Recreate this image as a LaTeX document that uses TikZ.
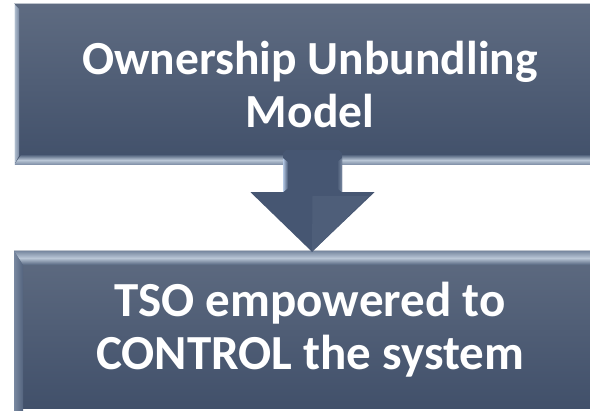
\documentclass[tikz,border=0pt]{standalone}
\usepackage{fontspec}
\setmainfont{Carlito}
\usetikzlibrary{calc}
\definecolor{boxtop}{RGB}{94,107,129}
\definecolor{boxbot}{RGB}{65,80,106}
\definecolor{bevlight}{RGB}{185,198,214}
\definecolor{bevmid}{RGB}{120,136,160}
\definecolor{bevdark}{RGB}{84,100,126}
\definecolor{edgeline}{RGB}{190,196,205}
\definecolor{arrowfill}{RGB}{70,86,114}
\definecolor{arrowlight}{RGB}{180,200,228}
\tikzset{
  panel/.style={rectangle, inner sep=0pt, text=white, align=center,
    shading=axis, top color=boxtop, bottom color=boxbot},
  toptext/.style={font=\bfseries\fontsize{47.5}{53}\selectfont},
  bottext/.style={font=\bfseries\fontsize{49}{53}\selectfont},
}
\begin{document}
\begin{tikzpicture}[x=1pt,y=-1pt]
\useasboundingbox (0,0) rectangle (590,411);
\fill[white] (0,0) rectangle (590,411);
\begin{scope}
\clip (0,0) rectangle (590,411);
% ---- top box
\node[panel, toptext, minimum width=592pt, minimum height=161pt] (top) at (310,84.5) {Ownership Unbundling\\Model};
\draw[edgeline, line width=1.2pt] (top.north west) -- (top.north east);
\shade[left color=bevlight, right color=bevmid] (14,4) -- (19,9) -- (19,156) -- (14,165) -- cycle;
\shade[top color=bevdark, bottom color=bevmid, middle color=bevlight] (14,165) -- (21,155) -- (606,155) -- (606,165) -- cycle;
\draw[white!70!bevlight, line width=0.8pt] (14.4,4) -- (14.4,165);
% ---- bottom box
\node[panel, bottext, minimum width=592pt, minimum height=158pt] (bottom) at (310,330) {TSO empowered to\\CONTROL the system};
\shade[top color=bevmid, bottom color=bevdark, middle color=bevlight] (14,251) -- (606,251) -- (606,265) -- (23,265) -- cycle;
\shade[left color=bevmid, right color=bevdark] (14,251) -- (23,265) -- (23,411) -- (14,411) -- cycle;
\draw[edgeline, line width=1.2pt] (bottom.north west) -- (bottom.north east);
% ---- arrow
\coordinate (as) at ($(top.south)+(2.5,-15)$);
\coordinate (at) at ($(bottom.north)+(2,1)$);
\fill[arrowfill] ($(as)+(-29.5,3)$) -- ($(as)+(-26.5,0)$) -- ($(as)+(26.5,0)$) -- ($(as)+(29.5,3)$)
  -- ($(as)+(29.5,42)$) -- ($(as)+(62,42)$) -- (at) -- ($(as)+(-62,42)$) -- ($(as)+(-29.5,42)$) -- cycle;
\shade[left color=arrowlight, right color=arrowfill] ($(as)+(-29.5,8)$) -- ($(as)+(-24.5,12)$) -- ($(as)+(-24.5,38)$) -- ($(as)+(-29.5,42)$) -- cycle;
\shade[left color=arrowfill, right color=bevmid] ($(as)+(24.5,12)$) -- ($(as)+(29.5,8)$) -- ($(as)+(29.5,42)$) -- ($(as)+(24.5,38)$) -- cycle;
\fill[arrowfill!85!bevmid] ($(as)+(0,46)$) -- ($(as)+(56,46)$) -- (at) -- cycle;
\end{scope}
\end{tikzpicture}
\end{document}
